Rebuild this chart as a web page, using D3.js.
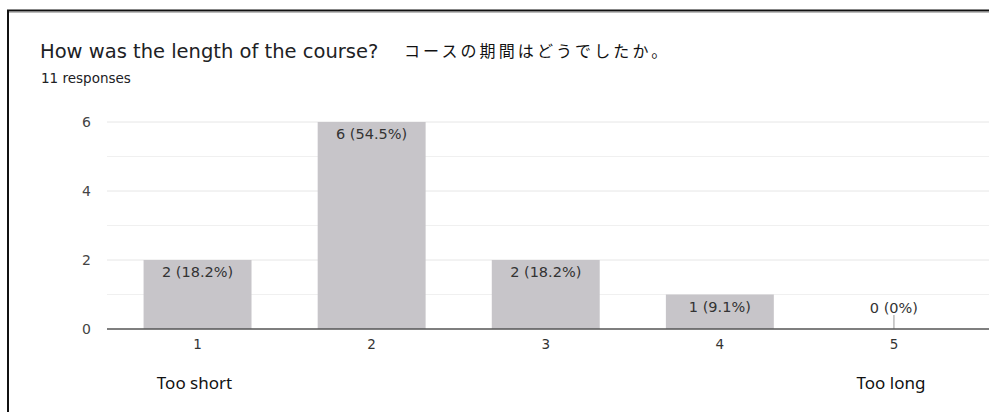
<!DOCTYPE html>
<html>
<head>
<meta charset="utf-8">
<script src="https://cdn.jsdelivr.net/npm/d3@7"></script>
<style>
  body { margin: 0; background: #fff; }
  svg { display: block; }
</style>
</head>
<body>
<svg id="chart" width="989" height="412"></svg>
<script>
// data
const categories = ['1', '2', '3', '4', '5'];
const counts = [2, 6, 2, 1, 0];
const percents = ['18.2%', '54.5%', '18.2%', '9.1%', '0%'];
const yTicks = [0, 2, 4, 6];
const gridTicks = [1, 2, 3, 4, 5, 6];
const endLabels = [{ cat: '1', text: 'Too short' }, { cat: '5', text: 'Too long' }];
const titleText = 'How was the length of the course?';
const titleJa = 'コースの期間はどうでしたか。';
const subtitleText = '11 responses';

const svg = d3.select('#chart');

// frame around the screenshot (left + top edges only)
svg.append('line').attr('x1', 8).attr('x2', 8).attr('y1', 10).attr('y2', 412)
    .attr('stroke', '#111').attr('stroke-width', 2);
svg.append('line').attr('x1', 7).attr('x2', 989).attr('y1', 10.5).attr('y2', 10.5)
    .attr('stroke', '#111').attr('stroke-width', 2);
svg.append('line').attr('x1', 9).attr('x2', 989).attr('y1', 12.5).attr('y2', 12.5)
    .attr('stroke', '#bbb').attr('stroke-width', 1);

// titles
svg.append('text')
    .attr('x', 40).attr('y', 58)
    .attr('font-family', 'DejaVu Sans, sans-serif')
    .attr('font-size', 19.5).attr('fill', '#202124')
    .text(titleText);
svg.append('text')
    .attr('x', 404).attr('y', 57)
    .attr('font-family', 'Noto Sans CJK JP, sans-serif')
    .attr('font-size', 16).attr('letter-spacing', 3.1).attr('fill', '#111')
    .text(titleJa);
svg.append('text')
    .attr('x', 41).attr('y', 83)
    .attr('font-family', 'DejaVu Sans, sans-serif')
    .attr('font-size', 13.5).attr('fill', '#202124')
    .text(subtitleText);

// scales
const plotLeft = 107, plotRight = 989;
const x = d3.scaleBand()
    .domain(categories)
    .range([110.5, 981])
    .paddingInner(0.38)
    .paddingOuter(0.19);

const y = d3.scaleLinear()
    .domain([0, 6])
    .range([329, 122]);

// gridlines
svg.append('g')
    .selectAll('line')
    .data(gridTicks)
    .enter().append('line')
    .attr('x1', plotLeft).attr('x2', plotRight)
    .attr('y1', d => y(d)).attr('y2', d => y(d))
    .attr('stroke', d => d % 2 === 0 ? '#e6e6e6' : '#f0f0f0')
    .attr('stroke-width', 1);

// y axis labels
const yAxis = d3.axisLeft(y).tickValues(yTicks).tickFormat(d3.format('d')).tickSize(0).tickPadding(0);
const yG = svg.append('g')
    .attr('transform', `translate(${plotLeft - 16},0)`)
    .call(yAxis);
yG.select('.domain').remove();
yG.selectAll('text')
    .attr('font-family', 'DejaVu Sans, sans-serif')
    .attr('font-size', 14).attr('fill', '#444');

// bars
svg.append('g')
    .selectAll('rect')
    .data(counts)
    .enter().append('rect')
    .attr('x', (d, i) => x(categories[i]))
    .attr('y', d => y(d))
    .attr('width', x.bandwidth())
    .attr('height', d => y(0) - y(d))
    .attr('fill', '#c7c5c9');

// small stub for the zero bar
svg.append('g')
    .selectAll('line')
    .data(counts.map((d, i) => ({ d, i })).filter(o => o.d === 0))
    .enter().append('line')
    .attr('x1', o => x(categories[o.i]) + x.bandwidth() / 2)
    .attr('x2', o => x(categories[o.i]) + x.bandwidth() / 2)
    .attr('y1', y(0) - 14).attr('y2', y(0))
    .attr('stroke', '#999').attr('stroke-width', 1);

// bar labels
svg.append('g')
    .selectAll('text')
    .data(counts)
    .enter().append('text')
    .attr('x', (d, i) => x(categories[i]) + x.bandwidth() / 2)
    .attr('y', d => d === 0 ? y(0) - 16 : y(d) + 17)
    .attr('text-anchor', 'middle')
    .attr('font-family', 'DejaVu Sans, sans-serif')
    .attr('font-size', 14.5).attr('fill', '#333')
    .text((d, i) => `${d} (${percents[i]})`);

// baseline
svg.append('line')
    .attr('x1', plotLeft).attr('x2', plotRight)
    .attr('y1', y(0)).attr('y2', y(0))
    .attr('stroke', '#555').attr('stroke-width', 1.5);

// x axis labels
const xAxis = d3.axisBottom(x).tickSize(0).tickPadding(0);
const xG = svg.append('g')
    .attr('transform', `translate(0,${y(0) + 10})`)
    .call(xAxis);
xG.select('.domain').remove();
xG.selectAll('text')
    .attr('font-family', 'DejaVu Sans, sans-serif')
    .attr('font-size', 13.5).attr('fill', '#333');

// "Too short" / "Too long"
svg.append('g')
    .selectAll('text')
    .data(endLabels)
    .enter().append('text')
    .attr('x', d => x(d.cat) + x.bandwidth() / 2 - 3)
    .attr('y', 389)
    .attr('text-anchor', 'middle')
    .attr('font-family', 'Noto Sans, sans-serif')
    .attr('font-size', 17).attr('fill', '#111')
    .text(d => d.text);
</script>
</body>
</html>
